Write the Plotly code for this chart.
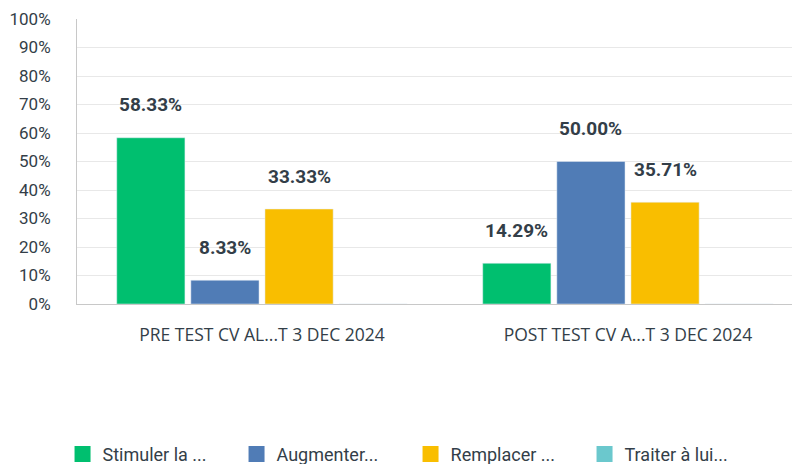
import plotly.graph_objects as go

categories = ["PRE TEST CV AL...T 3 DEC 2024", "POST TEST CV A...T 3 DEC 2024"]
series_names = ["Stimuler la ...", "Augmenter...", "Remplacer ...", "Traiter à lui..."]
stimuler = [58.33, 14.29]
augmenter = [8.33, 50.00]
remplacer = [33.33, 35.71]
traiter = [0, 0]
colors = ["#00bf6f", "#507cb6", "#f9be00", "#6bc8cd"]
y_ticks = [0, 10, 20, 30, 40, 50, 60, 70, 80, 90, 100]
y_tick_labels = ["0%", "10%", "20%", "30%", "40%", "50%", "60%", "70%", "80%", "90%", "100%"]

series = [stimuler, augmenter, remplacer, traiter]
text_color = "#333e48"

fig = go.Figure()
for i, (name, vals, col) in enumerate(zip(series_names, series, colors)):
    fig.add_trace(go.Bar(
        x=categories, y=vals, name=name, marker_color=col,
        showlegend=False,
        offsetgroup=str(i),
        hoverinfo="skip",
    ))
    fig.add_trace(go.Scatter(
        x=[None], y=[None], mode="markers", name=name,
        marker=dict(symbol="square", size=21, color=col),
        showlegend=True,
    ))

# value labels via annotations, positioned from data
n = len(series)
slot = 0.81 / n
for i, vals in enumerate(series):
    for j, v in enumerate(vals):
        if v <= 0:
            continue
        xpos = j - 0.405 + slot * (i + 0.5)
        fig.add_annotation(
            x=xpos, y=v, xref="x", yref="y", text=f"{v:.2f}%",
            showarrow=False, yanchor="middle", yshift=33,
            font=dict(family="Roboto", size=19, color=text_color, weight="bold"),
        )

fig.update_layout(
    width=800, height=464,
    margin=dict(l=69, r=8, t=11, b=168, autoexpand=False),
    plot_bgcolor="white", paper_bgcolor="white",
    barmode="group", bargap=0.19, bargroupgap=0.08,
    legend=dict(
        orientation="h", x=-0.020, xref="paper", xanchor="left",
        y=-0.527, yanchor="middle",
        font=dict(family="Roboto", size=18, color=text_color),
        entrywidth=129, entrywidthmode="pixels",
        itemsizing="trace",
    ),
    font=dict(family="Roboto", color=text_color),
)
fig.update_xaxes(
    type="category", range=[-0.5055, 1.47], automargin=False,
    showline=True, linecolor="#c8c8c8", linewidth=1,
    showgrid=False, ticks="",
    tickfont=dict(family="Open Sans", size=17.5, color=text_color),
    ticklabelstandoff=15,
)
fig.update_yaxes(
    range=[0, 100], tickvals=y_ticks, ticktext=y_tick_labels, automargin=False,
    showline=True, linecolor="#c8c8c8", linewidth=1,
    gridcolor="#e8e8e8", gridwidth=1,
    tickfont=dict(family="Roboto", size=17, color=text_color),
    ticklabelstandoff=22, zeroline=False,
)

fig.write_html("out.html")
